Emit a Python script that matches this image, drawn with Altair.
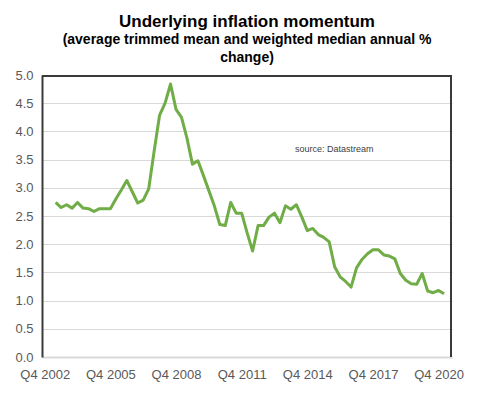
import altair as alt
import pandas as pd

# quarterly values, Q2 2003 .. Q1 2021 (average of trimmed mean and weighted median, annual %)
values = [
    2.74, 2.65, 2.70, 2.64, 2.74, 2.64, 2.63, 2.58, 2.63, 2.63,
    2.63, 2.80, 2.96, 3.13, 2.93, 2.73, 2.78, 2.98, 3.65, 4.29,
    4.50, 4.84, 4.39, 4.25, 3.88, 3.42, 3.48, 3.22, 2.95, 2.68,
    2.35, 2.33, 2.74, 2.55, 2.55, 2.20, 1.88, 2.33, 2.33, 2.48,
    2.55, 2.38, 2.68, 2.62, 2.70, 2.48, 2.24, 2.28, 2.17, 2.12,
    2.04, 1.60, 1.42, 1.34, 1.24, 1.58, 1.73, 1.83, 1.90, 1.90,
    1.81, 1.79, 1.74, 1.48, 1.36, 1.30, 1.29, 1.48, 1.17, 1.14,
    1.18, 1.12,
]
# quarter index relative to Q2 2003
tick_positions = [-2, 10, 22, 34, 46, 58, 70]
tick_labels = ["Q4 2002", "Q4 2005", "Q4 2008", "Q4 2011", "Q4 2014", "Q4 2017", "Q4 2020"]
y_ticks = [0, 0.5, 1.0, 1.5, 2.0, 2.5, 3.0, 3.5, 4.0, 4.5, 5.0]
x_domain = [-2.5, 72.45]
y_domain = [0, 5]

df = pd.DataFrame({"i": list(range(len(values))), "v": values})
one = pd.DataFrame({"k": [0]})

label_map = "{" + ",".join(f"'{p}':'{l}'" for p, l in zip(tick_positions, tick_labels)) + "}"

W, H = 410, 282
FONT = "Liberation Sans"
FRAME = "#3a3a3a"
xs = alt.Scale(domain=x_domain, nice=False, zero=False)
ys = alt.Scale(domain=y_domain, nice=False)

line = alt.Chart(df).mark_line(color="#70AD47", strokeWidth=3, strokeJoin="round").encode(
    x=alt.X("i:Q", scale=xs,
            axis=alt.Axis(values=tick_positions, labelExpr=f"{label_map}[datum.value]",
                          title=None, grid=False, ticks=False,
                          domain=True, domainColor="#d9d9d9", domainWidth=2,
                          labelFontSize=13, labelColor="#595959", labelFont=FONT,
                          labelPadding=11, labelOverlap=False)),
    y=alt.Y("v:Q", scale=ys,
            axis=alt.Axis(values=y_ticks, format=".1f", title=None, ticks=False,
                          domain=True, domainColor=FRAME, domainWidth=2,
                          gridColor="#d9d9d9", gridWidth=1, labelOverlap=False,
                          labelFontSize=13, labelColor="#595959", labelFont=FONT,
                          labelPadding=9)),
)

top_rule = alt.Chart(one).mark_rule(color=FRAME, strokeWidth=2).encode(
    x=alt.value(0), x2=alt.value(W), y=alt.value(1))
right_rule = alt.Chart(one).mark_rule(color=FRAME, strokeWidth=2).encode(
    x=alt.value(W - 1), y=alt.value(0), y2=alt.value(H))

source = alt.Chart(one).mark_text(align="left", baseline="middle", fontSize=9,
                                  color="#404040", font=FONT, text="source:  Datastream").encode(
    x=alt.value(253), y=alt.value(74))

chart = alt.layer(line, top_rule, right_rule, source).properties(
    width=W, height=H,
    title=alt.TitleParams(
        text="Underlying inflation momentum",
        subtitle=["(average trimmed mean and weighted median annual %", "change)"],
        anchor="middle", font=FONT, fontSize=17, fontWeight="bold", color="black",
        subtitleFont=FONT, subtitleFontSize=14, subtitleFontWeight="bold",
        subtitleColor="black", subtitleLineHeight=18, subtitlePadding=2, offset=3),
    autosize=alt.AutoSizeParams(type="none"),
    padding={"left": 34, "top": 67, "right": 23, "bottom": 31},
).configure_view(stroke=None)

chart.save("out.html", embed_options={"renderer": "svg", "actions": False})
